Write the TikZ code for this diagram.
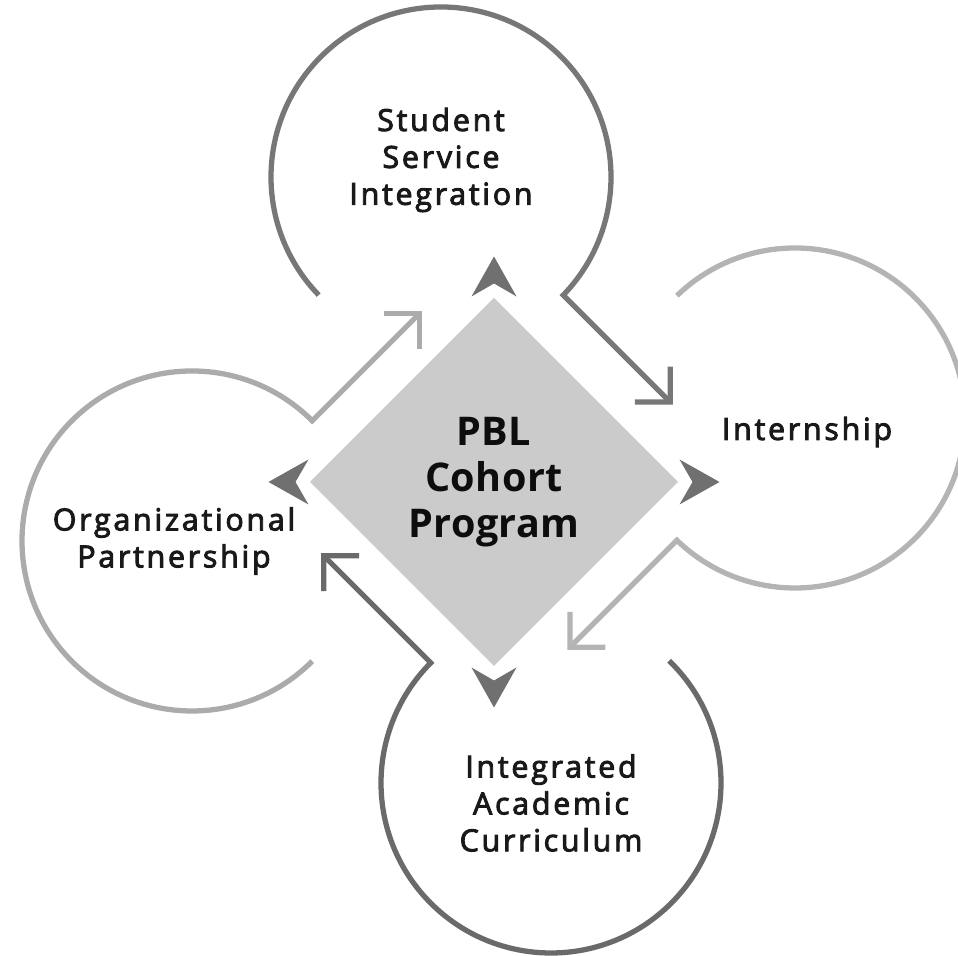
\documentclass[tikz,border=0pt]{standalone}
\usepackage{fontspec}
\setmainfont{Open Sans}
\newfontfamily\lblfont{Open Sans}[LetterSpace=9, FakeBold=3]
\newfontfamily\hubfont{Open Sans}[LetterSpace=1]
\usetikzlibrary{shapes.geometric,arrows.meta}

\definecolor{darkring}{HTML}{777777}
\definecolor{deepring}{HTML}{6A6A6A}
\definecolor{lightring}{HTML}{B4B4B4}
\definecolor{paleorg}{HTML}{ABABAB}
\definecolor{hubgray}{HTML}{CBCBCB}
\definecolor{headgray}{HTML}{707070}

\begin{document}
\begin{tikzpicture}[
    ring/.style={circle, minimum size=6.8cm, inner sep=0pt, outer sep=0pt},
    lbl/.style={align=center, text=black!90, font=\lblfont\fontsize{17.3}{21}\selectfont},
    loop/.style={line width=3pt, -{Straight Barb[length=0.5cm, width=1cm, sharp]}}
    ]
\useasboundingbox (0,0) rectangle (19.16,19.12);

\node[diamond, aspect=1, fill=hubgray, minimum size=7.36cm, inner sep=0pt, outer sep=0pt,
      align=center, text=black!95, font=\hubfont\bfseries\fontsize{22.5}{26}\selectfont] (pbl) at (9.88,9.48) {PBL\\Cohort\\Program};

\node[ring] (ssi) at (8.82,15.58) {};
\node[ring] (intern) at (15.90,10.76) {};
\node[ring] (iac) at (11.02,3.46) {};
\node[ring] (org) at (3.84,8.30) {};

\path (ssi.-44) ++(-45:3.1) coordinate (ssitip);
\path (intern.-134) ++(-135:3.1) coordinate (interntip);
\path (iac.135) ++(135:3.1) coordinate (iactip);
\path (org.45) ++(45:3.1) coordinate (orgtip);

% open rings, each running into its arrow
\draw[loop, darkring] (ssi.224) arc[start angle=224, end angle=-44, radius=3.4cm] -- (ssitip);
\draw[loop, lightring] (intern.134) arc[start angle=134, end angle=-134, radius=3.4cm] -- (interntip);
\draw[loop, deepring] (iac.46) arc[start angle=46, end angle=-225, radius=3.4cm] -- (iactip);
\draw[loop, paleorg] (org.-45) arc[start angle=-45, end angle=-315, radius=3.4cm] -- (orgtip);

\foreach \a in {0,90,180,270}
  \fill[headgray, shift={(pbl.\a)}, rotate=\a] (0.03,0.45) -- (0.83,0) -- (0.03,-0.45) -- (0.29,0) -- cycle;

\node[lbl] (ssilbl) at ([yshift=0.34cm]ssi.center) {Student\\Service\\Integration};
\node[lbl] (internlbl) at ([shift={(0.24,-0.28)}]intern.center) {Internship};
\node[lbl] (iaclbl) at ([yshift=-0.4cm]iac.center) {Integrated\\Academic\\Curriculum};
\node[lbl] (orglbl) at ([xshift=-0.36cm]org.center) {Organizational\\Partnership};
\end{tikzpicture}
\end{document}
